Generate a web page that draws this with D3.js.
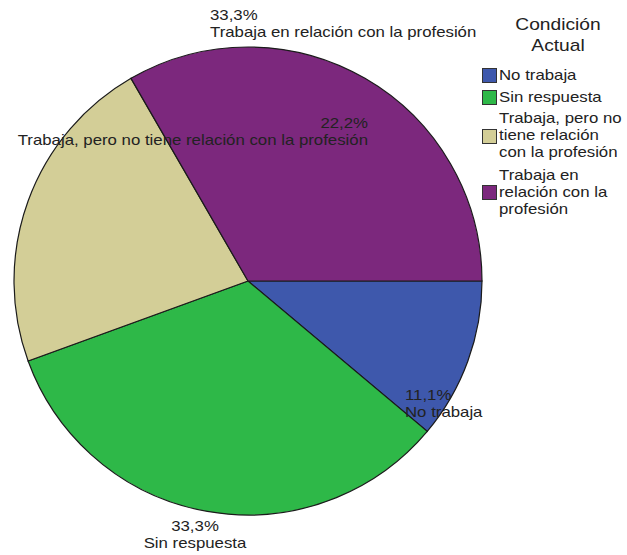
<!DOCTYPE html>
<html><head><meta charset="utf-8">
<script src="https://cdn.jsdelivr.net/npm/d3@7"></script>
<style>body{margin:0;background:#fff}svg{display:block}text{font-family:"Liberation Sans",Arial,sans-serif;fill:#222}</style>
</head><body><svg id="c" width="627" height="555"></svg>
<script>
const categories = ["No trabaja","Sin respuesta","Trabaja, pero no tiene relación con la profesión","Trabaja en relación con la profesión"];
const counts = [1,3,2,3];
const pctLabels = ["11,1%","33,3%","22,2%","33,3%"];
const colors = ["#3E58AC","#2EB848","#D3CE97","#7C287D"];
const legendLines = [["No trabaja"],["Sin respuesta"],["Trabaja, pero no","tiene relación","con la profesión"],["Trabaja en","relación con la","profesión"]];
const legendTitle = ["Condición","Actual"];

const svg = d3.select("#c");
const cx = 248, cy = 281, R = 234, SX = 1.2;
const pie = d3.pie().sort(null).value(d=>d).startAngle(Math.PI/2).endAngle(Math.PI/2+2*Math.PI);
const arc = d3.arc().innerRadius(0).outerRadius(R);
const arcs = pie(counts);
const g = svg.append("g").attr("transform",`translate(${cx},${cy})`);
g.selectAll("path").data(arcs).join("path")
  .attr("d",arc).attr("fill",(d,i)=>colors[i])
  .attr("stroke","#1b1b1b").attr("stroke-width",1.2);

function label(x,y,anchor,lines,size,lh,sx){
  const t = svg.append("g").attr("transform",`translate(${x},${y}) scale(${sx||SX},1)`);
  lines.forEach((s,k)=>t.append("text").attr("x",0).attr("y",k*lh)
    .attr("text-anchor",anchor).attr("font-size",size).text(s));
}
// slice labels: [x, y, anchor]
const labelPos = [[405,400,"start"],[195,531,"middle"],[368,128,"end"],[210,20,"start"]];
arcs.forEach((a,i)=>{
  const p = labelPos[i];
  label(p[0],p[1],p[2],[pctLabels[i],categories[i]],14,17);
});

// legend
label(558,30,"middle",legendTitle,16,21,1.2);
const itemY = [68,90,129,185];
const textY = [80,102,123,180];
legendLines.forEach((lines,i)=>{
  svg.append("rect").attr("x",482.5).attr("y",itemY[i]+0.5).attr("width",14).attr("height",14)
    .attr("fill",colors[i]).attr("stroke","#333").attr("stroke-width",1);
  label(499,textY[i],"start",lines,14,17);
});
</script></body></html>
